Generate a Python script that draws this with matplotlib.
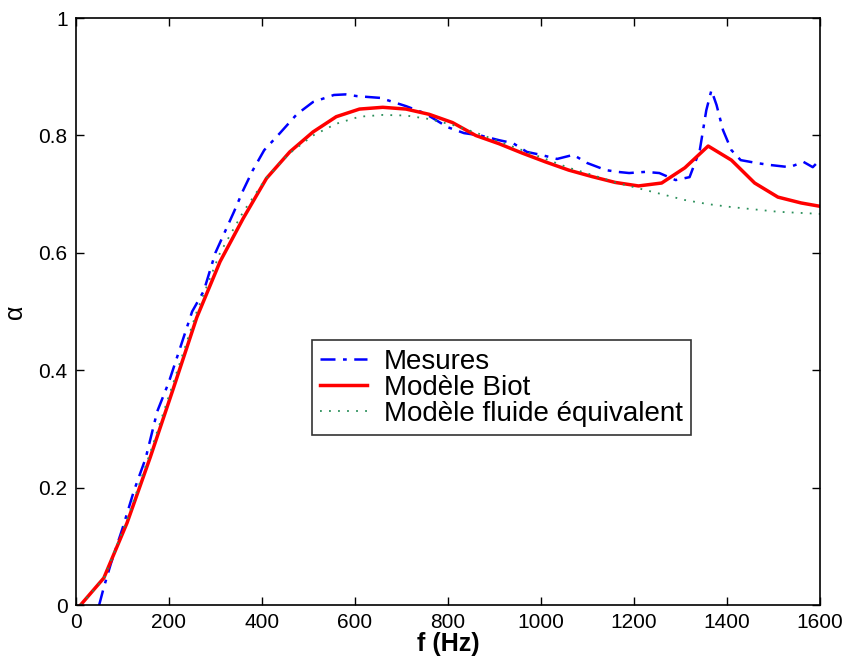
import numpy as np
import matplotlib.pyplot as plt

plt.rcParams['font.family'] = ['Liberation Sans', 'DejaVu Sans']

# Mesures (measured absorption)
f_mes = [50, 60, 75, 100, 125, 150, 175, 200, 225, 250, 275, 300, 320, 340, 360,
         380, 405, 440, 475, 510, 555, 580, 605, 655, 710, 750, 800, 835, 870,
         910, 940, 970, 1000, 1035, 1070, 1100, 1140, 1165, 1190, 1225, 1255,
         1290, 1320, 1342, 1356, 1367, 1378, 1392, 1410, 1430, 1465, 1490, 1535,
         1565, 1585, 1600]
a_mes = [0.0, 0.03, 0.07, 0.13, 0.195, 0.25, 0.33, 0.38, 0.44, 0.5, 0.535, 0.6,
         0.635, 0.67, 0.707, 0.74, 0.775, 0.805, 0.836, 0.857, 0.869, 0.87,
         0.867, 0.864, 0.85, 0.838, 0.814, 0.804, 0.8, 0.792, 0.787, 0.772,
         0.767, 0.76, 0.767, 0.753, 0.741, 0.738, 0.736, 0.738, 0.736, 0.724,
         0.729, 0.775, 0.843, 0.877, 0.852, 0.809, 0.775, 0.758, 0.753, 0.75,
         0.746, 0.755, 0.746, 0.758]

# Modele Biot (computed every 50 Hz)
f_mod = [10, 60, 110, 160, 210, 260, 310, 360, 410, 460, 510, 560, 610, 660,
         710, 760, 810, 860, 910, 960, 1010, 1060, 1110, 1160, 1210, 1260,
         1310, 1360, 1410, 1460, 1510, 1560, 1610]
a_biot = [0.0, 0.046, 0.14, 0.252, 0.37, 0.49, 0.585, 0.659, 0.727, 0.772,
          0.806, 0.832, 0.845, 0.848, 0.845, 0.836, 0.822, 0.80, 0.786, 0.77,
          0.755, 0.741, 0.73, 0.72, 0.714, 0.719, 0.745, 0.782, 0.758, 0.719,
          0.695, 0.685, 0.678]

# Modele fluide equivalent
a_fluide = [0.0, 0.045, 0.145, 0.26, 0.38, 0.50, 0.60, 0.67, 0.728, 0.77,
            0.80, 0.82, 0.832, 0.835, 0.834, 0.828, 0.818, 0.805, 0.79, 0.775,
            0.76, 0.745, 0.733, 0.72, 0.71, 0.70, 0.69, 0.683, 0.678, 0.674,
            0.67, 0.668, 0.666]

fig = plt.figure(figsize=(8.53, 6.70), dpi=100)
ax = fig.add_axes([0.089, 0.097, 0.872, 0.876])

ax.plot(f_mes, a_mes, color='#0000ff', lw=1.8, dashes=(6, 3, 1.5, 3),
        label='Mesures')
ax.plot(f_mod, a_biot, color='#ff0000', lw=2.5, label='Modèle Biot')
ax.plot(f_mod, a_fluide, color='#2a8f5a', lw=1.3, linestyle=(0, (1, 4)),
        label='Modèle fluide équivalent')

ax.set_xlim(0, 1600)
ax.set_ylim(0, 1)
ax.set_xticks(np.arange(0, 1601, 200))
ax.set_yticks(np.arange(0, 1.01, 0.2))
ax.set_yticklabels(['0', '0.2', '0.4', '0.6', '0.8', '1'])
ax.tick_params(direction='in', top=True, right=True, length=6, width=1,
               labelsize=15, pad=6)
for s in ax.spines.values():
    s.set_linewidth(1.2)

ax.set_xlabel('f (Hz)', fontsize=18, fontweight='bold', labelpad=0)
ax.set_ylabel('α', fontsize=18, labelpad=8)

leg = ax.legend(loc='upper left', bbox_to_anchor=(0.317, 0.451), fontsize=20,
                frameon=True, fancybox=False, edgecolor='black',
                handlelength=1.7, borderpad=0.3, labelspacing=0.0,
                handletextpad=0.6, borderaxespad=0)
leg.get_frame().set_linewidth(1.2)

fig.savefig('out.png', dpi=100)
